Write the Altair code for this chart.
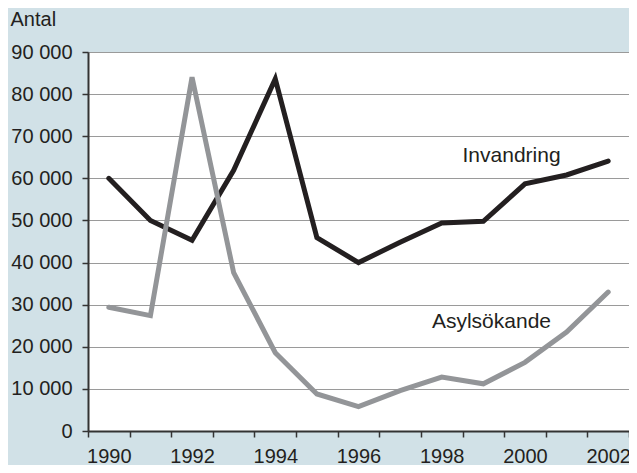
import altair as alt
import pandas as pd

years = list(range(1990, 2003))
invandring = [60000, 50000, 45300, 61900, 83600, 45900, 40000, 44800, 49400, 49800, 58700, 60800, 64100]
asylsokande = [29400, 27400, 84000, 37600, 18600, 8800, 5800, 9600, 12800, 11200, 16300, 23500, 33000]
series_names = ["Invandring", "Asylsökande"]
series_colors = ["#231f20", "#939598"]

label_text = ["Invandring", "Asylsökande"]
label_year = [1999, 1998]
label_value = [65300, 26000]
label_dx = [0, 11]

rows = []
for name, vals in zip(series_names, [invandring, asylsokande]):
    for y, v in zip(years, vals):
        rows.append({"year": y, "value": v, "series": name})
df = pd.DataFrame(rows)
labels_df = pd.DataFrame({"text": label_text, "year": label_year, "value": label_value, "dx": label_dx})

FONT = "Liberation Sans"
INK = "#231f20"

x_enc = alt.X(
    "year:O",
    bandPosition=0.5,
    scale=alt.Scale(type="band", paddingInner=0, paddingOuter=0, domain=years),
    axis=alt.Axis(
        title=None,
        labelAngle=0,
        tickBand="extent",
        grid=False,
        labelExpr="datum.value % 2 == 0 ? datum.label : ''",
        labelFontSize=20,
        labelFont=FONT,
        labelColor=INK,
        labelPadding=9,
        tickSize=6,
        tickColor="#333333",
        tickWidth=1.5,
        domainColor="#333333",
        domainWidth=2,
    ),
)
y_enc = alt.Y(
    "value:Q",
    scale=alt.Scale(domain=[0, 90000], nice=False),
    axis=alt.Axis(
        title="Antal",
        titleAngle=0,
        titleAlign="left",
        titleBaseline="alphabetic",
        titleX=-78,
        titleY=-27,
        titleFont=FONT,
        titleFontSize=20,
        titleFontWeight="normal",
        titleColor=INK,
        values=list(range(0, 90001, 10000)),
        labelExpr="replace(format(datum.value, ',d'), ',', ' ')",
        labelFontSize=20,
        labelFont=FONT,
        labelColor=INK,
        labelPadding=10,
        tickSize=6,
        tickColor="#333333",
        tickWidth=1.5,
        domainColor="#333333",
        domainWidth=2,
        grid=True,
        gridColor="#9a9a9a",
        gridWidth=1,
    ),
)

lines = alt.Chart(df).mark_line(strokeWidth=5, strokeCap="round", strokeJoin="miter").encode(
    x=x_enc,
    y=y_enc,
    color=alt.Color("series:N", scale=alt.Scale(domain=series_names, range=series_colors), legend=None),
    order=alt.Order("year:O"),
)

texts = alt.Chart(labels_df).mark_text(
    align="left", baseline="middle", font=FONT, fontSize=21, color=INK
).encode(
    x=alt.X("year:O"),
    y=alt.Y("value:Q"),
    text="text:N",
    xOffset=alt.XOffset("dx:Q", scale=None),
)

chart = (
    alt.layer(lines, texts)
    .properties(
        width=541,
        height=379,
        autosize=alt.AutoSizeParams(type="none"),
        padding={"left": 80, "top": 44, "right": 0, "bottom": 34},
        background="#d1e1e7",
    )
    .configure_view(fill="white", stroke="#9a9a9a", strokeWidth=1)
)

chart.save("out.html", embed_options={"renderer": "svg", "actions": False})
